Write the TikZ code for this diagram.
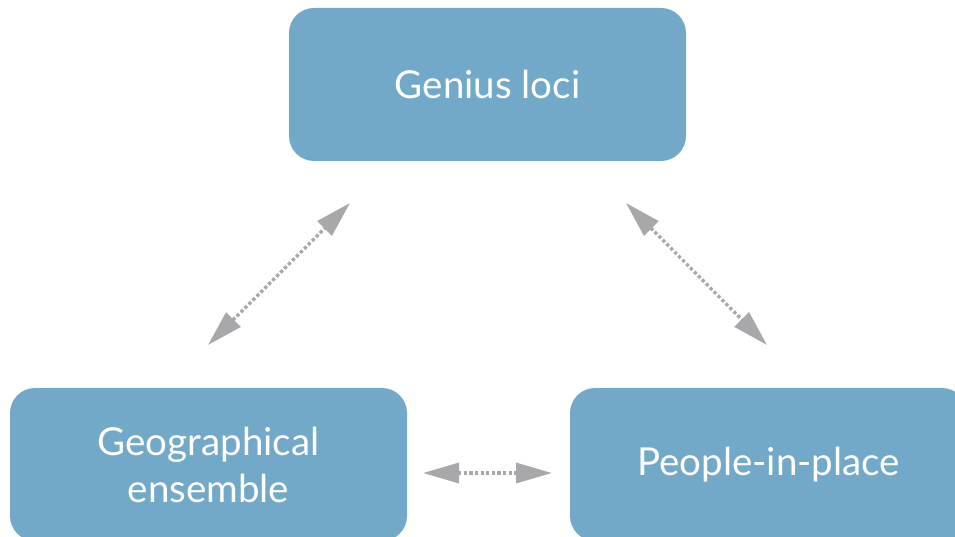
\documentclass[tikz,border=0pt]{standalone}
\usepackage{fontspec}
\setmainfont{Lato}
\usetikzlibrary{arrows.meta}
\definecolor{boxblue}{RGB}{115,169,200}
\definecolor{arrowgray}{RGB}{168,168,170}
\tikzset{
  conceptbox/.style={rectangle, rounded corners=25pt, fill=boxblue, draw=none,
    minimum width=397pt, minimum height=153pt, inner sep=0pt,
    text=white, align=center, font=\fontsize{38.5}{47}\selectfont},
  linkarrow/.style={draw=arrowgray, line width=3.3pt, dash pattern=on 3.2pt off 2.4pt,
    {Triangle[length=36pt,width=20pt,fill=arrowgray]}-{Triangle[length=36pt,width=20pt,fill=arrowgray]},
    shorten <=0pt, shorten >=0pt}
}
\begin{document}
\begin{tikzpicture}[x=1pt,y=-1pt]
\useasboundingbox (0,0) rectangle (955,537);
\clip (0,0) rectangle (955,537);
\node[conceptbox] (genius) at (487.5,84.5) {Genius loci};
\node[conceptbox] (geo) at (208.5,464.5) {Geographical\\ensemble};
\node[conceptbox] (people) at (768.5,464.5) {People-in-place};
\coordinate (l1) at (208,345);
\coordinate (l2) at (350,203);
\coordinate (r1) at (626,203);
\coordinate (r2) at (767,345);
\coordinate (h1) at (423,473);
\coordinate (h2) at (552,473);
\draw[linkarrow] (l1) -- (l2);
\draw[linkarrow] (r1) -- (r2);
\draw[linkarrow] (h1) -- (h2);
\end{tikzpicture}
\end{document}
